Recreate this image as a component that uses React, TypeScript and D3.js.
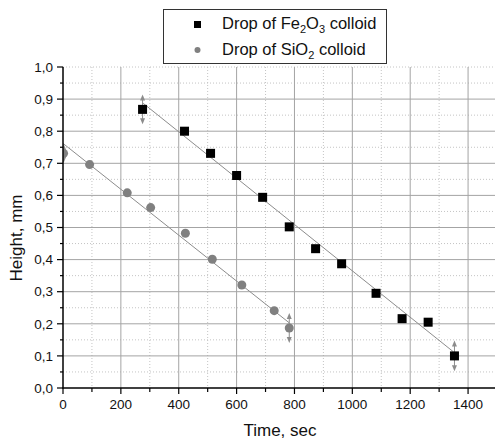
import React from "react";
import * as d3 from "d3";

const feTime = [275, 420, 510, 600, 690, 782, 873, 963, 1082, 1172, 1262, 1353];
const feHeight = [0.868, 0.8, 0.731, 0.662, 0.594, 0.502, 0.434, 0.387, 0.295, 0.216, 0.205, 0.1];
const feErr = [0.046, 0, 0, 0, 0, 0, 0, 0, 0, 0, 0, 0.048];
const siTime = [2, 92, 222, 303, 423, 516, 618, 730, 782];
const siHeight = [0.731, 0.696, 0.608, 0.562, 0.482, 0.401, 0.321, 0.241, 0.187];
const siErr = [0.03, 0, 0, 0, 0, 0, 0, 0, 0.047];
const feFit = [[277, 0.887], [1349, 0.113]];
const siFit = [[0, 0.762], [782, 0.203]];
const xTicks = [0, 200, 400, 600, 800, 1000, 1200, 1400];
const yTicks = [0, 0.1, 0.2, 0.3, 0.4, 0.5, 0.6, 0.7, 0.8, 0.9, 1.0];

const W = 495, H = 441;
const L = 63, R = 497, T = 67, B = 388;
const FONT = "'Liberation Sans', Arial, sans-serif";

export default function App() {
  const x = d3.scaleLinear().domain([0, 1500]).range([L, R]);
  const y = d3.scaleLinear().domain([0, 1]).range([B, T]);
  const line = d3.line<number[]>().x(d => x(d[0])).y(d => y(d[1]));
  const xMinor = d3.range(100, 1500, 200);
  const yMinor = d3.range(0.05, 1.0, 0.1);
  const fmt = (v: number) => v.toFixed(1).replace(".", ",");

  const errBar = (cx: number, cy: number, e: number, key: string) => {
    if (!e) return null;
    const yt = y(cy + e), yb = y(cy - e);
    const c = "#8c8c8c";
    return (
      <g key={key}>
        <line x1={cx} x2={cx} y1={yt + 4} y2={yb - 4} stroke={c} strokeWidth={1} />
        <path d={`M${cx},${yt} L${cx - 2.5},${yt + 6} L${cx + 2.5},${yt + 6} Z`} fill={c} />
        <path d={`M${cx},${yb} L${cx - 2.5},${yb - 6} L${cx + 2.5},${yb - 6} Z`} fill={c} />
      </g>
    );
  };

  return (
    <svg width={W} height={H} style={{ position: "absolute", left: 0, top: 0, background: "#fff" }} fontFamily={FONT}>
      <defs>
        <clipPath id="plot"><rect x={L} y={T - 2} width={W - L} height={B - T + 2} /></clipPath>
      </defs>
      <rect width={W} height={H} fill="#fff" />
      {/* minor grid */}
      {xMinor.map(v => (
        <line key={"xm" + v} x1={x(v)} x2={x(v)} y1={T} y2={B} stroke="#c4c4c4" strokeWidth={1} strokeDasharray="1,2" />
      ))}
      {yMinor.map(v => (
        <line key={"ym" + v} x1={L} x2={W} y1={y(v)} y2={y(v)} stroke="#c4c4c4" strokeWidth={1} strokeDasharray="1,2" />
      ))}
      <line x1={L} x2={W} y1={y(1)} y2={y(1)} stroke="#c4c4c4" strokeWidth={1} strokeDasharray="1,2" />
      {/* major grid */}
      {xTicks.filter(v => v > 0).map(v => (
        <line key={"xg" + v} x1={x(v)} x2={x(v)} y1={T} y2={B} stroke="#a4a4a4" strokeWidth={1} />
      ))}
      {yTicks.filter(v => v > 0 && v < 1).map(v => (
        <line key={"yg" + v} x1={L} x2={W} y1={y(v)} y2={y(v)} stroke="#a4a4a4" strokeWidth={1} />
      ))}
      {/* fit lines and markers */}
      <g clipPath="url(#plot)">
        <path d={line(feFit) || ""} stroke="#8c8c8c" strokeWidth={1} fill="none" />
        <path d={line(siFit) || ""} stroke="#8c8c8c" strokeWidth={1} fill="none" />
        {siTime.map((t, i) => errBar(x(t), siHeight[i], siErr[i], "se" + i))}
        {feTime.map((t, i) => errBar(x(t), feHeight[i], feErr[i], "fe" + i))}
        {siTime.map((t, i) => (
          <circle key={"s" + i} cx={x(t)} cy={y(siHeight[i])} r={4.5} fill="#808080" />
        ))}
        {feTime.map((t, i) => (
          <rect key={"f" + i} x={x(t) - 4.5} y={y(feHeight[i]) - 4.5} width={9} height={9} fill="#000" />
        ))}
      </g>
      {/* axes */}
      <line x1={L} x2={L} y1={T} y2={B + 0.5} stroke="#000" strokeWidth={1.5} />
      <line x1={L - 0.5} x2={W} y1={B} y2={B} stroke="#000" strokeWidth={1.5} />
      {yTicks.map(v => (
        <g key={"yt" + v}>
          <line x1={L - 6} x2={L} y1={y(v)} y2={y(v)} stroke="#000" strokeWidth={1.2} />
          <text x={L - 10} y={y(v)} dy="0.35em" textAnchor="end" fontSize={13.5} fill="#111">{fmt(v)}</text>
        </g>
      ))}
      {yMinor.map(v => (
        <line key={"ytm" + v} x1={L - 3} x2={L} y1={y(v)} y2={y(v)} stroke="#000" strokeWidth={1.2} />
      ))}
      {xTicks.map(v => (
        <g key={"xt" + v}>
          <line x1={x(v)} x2={x(v)} y1={B} y2={B + 6} stroke="#000" strokeWidth={1.2} />
          <text x={x(v)} y={409} textAnchor="middle" fontSize={13.5} fill="#111">{v}</text>
        </g>
      ))}
      {xMinor.map(v => (
        <line key={"xtm" + v} x1={x(v)} x2={x(v)} y1={B} y2={B + 4} stroke="#000" strokeWidth={1.2} />
      ))}
      <text x={280} y={436} textAnchor="middle" fontSize={17} fill="#111">Time, sec</text>
      <text transform="translate(22,238) rotate(-90)" textAnchor="middle" fontSize={17} fill="#111">Height, mm</text>
      {/* legend */}
      <rect x={163.5} y={9.5} width={223} height={54} fill="#fff" stroke="#333" strokeWidth={1} />
      <rect x={194} y={21} width={7} height={7} fill="#000" />
      <text x={222} y={29} fontSize={16.5} fill="#111">
        Drop of Fe<tspan fontSize={11} dy={4}>2</tspan><tspan dy={-4}>O</tspan><tspan fontSize={11} dy={4}>3</tspan><tspan dy={-4}> colloid</tspan>
      </text>
      <circle cx={197.5} cy={50} r={3} fill="#808080" />
      <text x={222} y={55} fontSize={16.5} fill="#111">
        Drop of SiO<tspan fontSize={11} dy={4}>2</tspan><tspan dy={-4}> colloid</tspan>
      </text>
    </svg>
  );
}
